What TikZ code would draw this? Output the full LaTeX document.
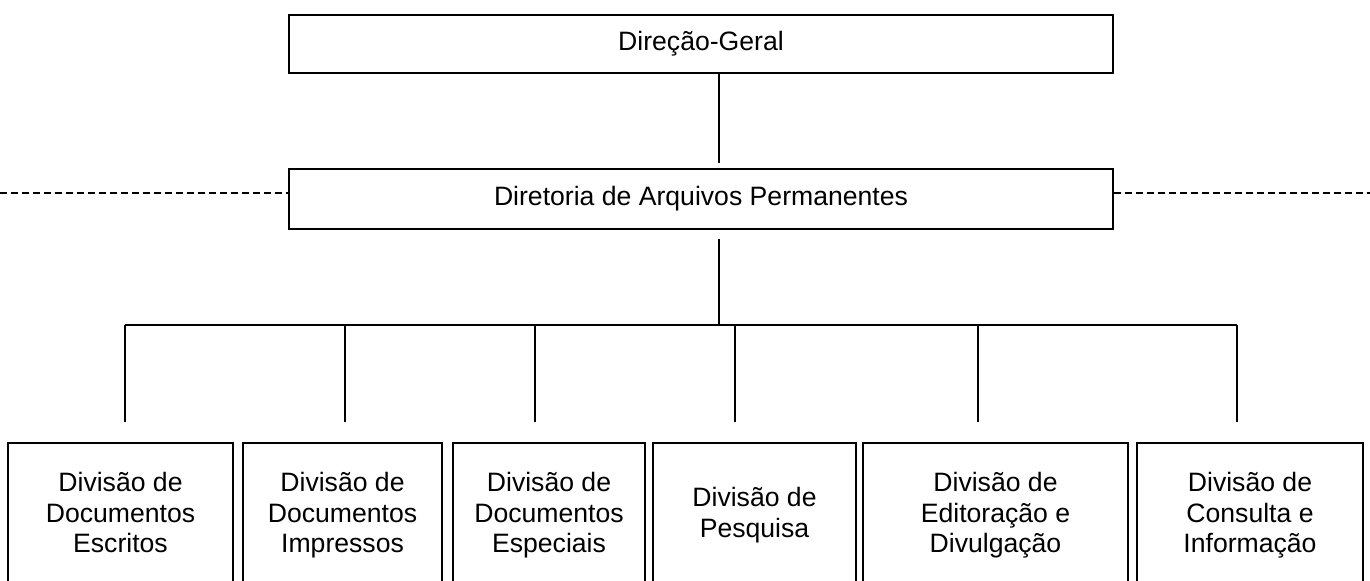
\documentclass[tikz,border=0pt]{standalone}
\usepackage{fontspec}
\setmainfont{Liberation Sans}
\usepackage{tikz}
\usetikzlibrary{positioning}
\usetikzlibrary{calc}

\tikzset{
    unit/.style = {draw = black, line width = 1pt, inner sep = 0pt, align = center,
        font = \fontsize{13.3}{15.2}\selectfont},
    division/.style = {unit, minimum height = 74pt, execute at end node = \strut},
    link/.style = {line width = 0.8pt},
    outside/.style = {line width = 0.8pt, dash pattern = on 3.5pt off 2pt}
}

\begin{document}
\begin{tikzpicture}[x = 0.5pt, y = -0.5pt]

        % Page frame
        \useasboundingbox (0,0) rectangle (1370,580);
        \clip (0,0) rectangle (1370,580);

        % Upper units
        \node[unit, minimum width = 412pt, minimum height = 29pt] (geral) at (701,44) {Direção-Geral};
        \node[unit, minimum width = 412pt, minimum height = 30pt] (diretoria) at (701,198.5) {Diretoria de Arquivos Permanentes};

        % Divisions
        \node[division, minimum width = 112.5pt] (escritos) at (120.5,517) {Divisão de\\Documentos\\Escritos};
        \node[division, minimum width = 99.5pt] (impressos) at (342.5,517) {Divisão de\\Documentos\\Impressos};
        \node[division, minimum width = 96pt] (especiais) at (549,517) {Divisão de\\Documentos\\Especiais};
        \node[division, minimum width = 101.5pt] (pesquisa) at (754.5,517) {Divisão de\\Pesquisa};
        \node[division, minimum width = 132.5pt] (editoracao) at (995.5,517) {Divisão de\\Editoração e\\Divulgação};
        \node[division, minimum width = 113pt] (consulta) at (1250,517) {Divisão de\\Consulta e\\Informação};

        % Free ends
        \coordinate (geralend) at (719,163);
        \coordinate (dirstart) at (719,239);
        \coordinate (busmid) at (719,325);
        \coordinate (busleft) at (125,325);
        \coordinate (busright) at (1237,325);
        \coordinate (sideleft) at (0,193);
        \coordinate (sideright) at (1370,193);

        % Connectors
        \draw[link] (geral.south -| geralend) -- (geralend);
        \draw[link] (dirstart) -- (busmid);
        \draw[link] (busleft) -- (busright);
        \draw[link] (busleft) -- ++(0,97);
        \draw[link] (345,325) -- ++(0,97);
        \draw[link] (535,325) -- ++(0,97);
        \draw[link] (735,325) -- ++(0,97);
        \draw[link] (978,325) -- ++(0,97);
        \draw[link] (busright) -- ++(0,97);
        \draw[outside] (sideleft) -- (diretoria.west |- sideleft);
        \draw[outside] (diretoria.east |- sideright) -- (sideright);
    \end{tikzpicture}
\end{document}
